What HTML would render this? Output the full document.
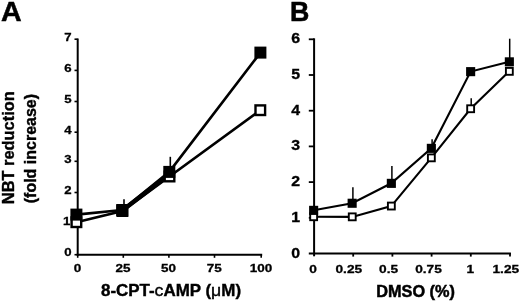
<!DOCTYPE html><html><head><meta charset="utf-8"><style>html,body{margin:0;padding:0;background:#fff}svg{display:block;filter:grayscale(1)}text{font-family:"Liberation Sans",sans-serif;font-weight:bold;fill:#000}</style></head><body>
<svg width="520" height="303" viewBox="0 0 520 303">
<rect width="520" height="303" fill="#fff"/>
<text transform="translate(0.90,21.30) scale(1.01,1)" font-size="28.3" text-anchor="start" stroke="#000" stroke-width="0.5">A</text>
<text transform="translate(289.90,21.00) scale(0.97,1)" font-size="27.6" text-anchor="start" stroke="#000" stroke-width="0.6">B</text>
<g stroke="#000" stroke-width="2" fill="none">
<path d="M77.7 38.5V255.7"/>
<path d="M76.7 254.7H262.2"/>
</g>
<g stroke="#000" stroke-width="1.6" fill="none">
<path d="M74.5 254.7H77.7"/>
<path d="M74.5 223.7H77.7"/>
<path d="M74.5 192.5H77.7"/>
<path d="M74.5 161.3H77.7"/>
<path d="M74.5 132.2H77.7"/>
<path d="M74.5 101.5H77.7"/>
<path d="M74.5 70.4H77.7"/>
<path d="M74.5 39.2H77.7"/>
<path d="M77.7 254V257.8"/>
<path d="M123.3 254V257.8"/>
<path d="M168.9 254V257.8"/>
<path d="M214.5 254V257.8"/>
<path d="M261.2 254V257.8"/>
</g>
<text transform="translate(71.60,256.10) scale(1.12,1)" font-size="11.8" text-anchor="end" stroke="#000" stroke-width="0.3">0</text>
<text transform="translate(70.30,225.10) scale(1.12,1)" font-size="11.8" text-anchor="end" stroke="#000" stroke-width="0.3">1</text>
<text transform="translate(71.60,193.90) scale(1.12,1)" font-size="11.8" text-anchor="end" stroke="#000" stroke-width="0.3">2</text>
<text transform="translate(71.60,162.70) scale(1.12,1)" font-size="11.8" text-anchor="end" stroke="#000" stroke-width="0.3">3</text>
<text transform="translate(71.60,133.60) scale(1.12,1)" font-size="11.8" text-anchor="end" stroke="#000" stroke-width="0.3">4</text>
<text transform="translate(71.60,102.90) scale(1.12,1)" font-size="11.8" text-anchor="end" stroke="#000" stroke-width="0.3">5</text>
<text transform="translate(71.60,71.80) scale(1.12,1)" font-size="11.8" text-anchor="end" stroke="#000" stroke-width="0.3">6</text>
<text transform="translate(71.60,40.60) scale(1.12,1)" font-size="11.8" text-anchor="end" stroke="#000" stroke-width="0.3">7</text>
<text transform="translate(77.40,271.60) scale(1.14,1)" font-size="11.8" text-anchor="middle" stroke="#000" stroke-width="0.3">0</text>
<text transform="translate(123.00,271.60) scale(1.14,1)" font-size="11.8" text-anchor="middle" stroke="#000" stroke-width="0.3">25</text>
<text transform="translate(168.60,271.60) scale(1.14,1)" font-size="11.8" text-anchor="middle" stroke="#000" stroke-width="0.3">50</text>
<text transform="translate(214.20,271.60) scale(1.14,1)" font-size="11.8" text-anchor="middle" stroke="#000" stroke-width="0.3">75</text>
<text transform="translate(260.90,271.60) scale(1.14,1)" font-size="11.8" text-anchor="middle" stroke="#000" stroke-width="0.3">100</text>
<text transform="translate(171.00,295.50) scale(1.04,1)" font-size="16.3" text-anchor="middle" stroke="#000" stroke-width="0.4">8-CPT-<tspan font-weight="normal" font-size="17">c</tspan>AMP (<tspan font-weight="normal" font-size="17">μ</tspan>M)</text>
<text transform="translate(14.00,147.70) rotate(-90) scale(0.995,1)" font-size="16.5" text-anchor="middle" stroke="#000" stroke-width="0.4">NBT reduction</text>
<text transform="translate(35.70,148.60) rotate(-90) scale(0.97,1)" font-size="16.5" text-anchor="middle" stroke="#000" stroke-width="0.4">(fold increase)</text>
<polyline points="76.4,222.2 122.4,211.0 169.5,176.5 260.3,110.2" fill="none" stroke="#000" stroke-width="2.7"/>
<polyline points="76.4,214.6 122.2,210.0 169.3,171.9 260.4,52.6" fill="none" stroke="#000" stroke-width="2.7"/>
<path d="M122.3 210.5L169.4 174.2" stroke="#000" stroke-width="4.3" fill="none"/>
<g stroke="#000" stroke-width="1.6">
<path d="M124 210.0V199.2"/>
<path d="M170.3 172.2V156.8"/>
</g>
<rect x="71.6" y="217.4" width="9.6" height="9.6" fill="#fff" stroke="#000" stroke-width="2.4"/>
<rect x="117.6" y="206.2" width="9.6" height="9.6" fill="#fff" stroke="#000" stroke-width="2.4"/>
<rect x="164.7" y="171.7" width="9.6" height="9.6" fill="#fff" stroke="#000" stroke-width="2.4"/>
<rect x="255.5" y="105.4" width="9.6" height="9.6" fill="#fff" stroke="#000" stroke-width="2.4"/>
<rect x="70.4" y="208.6" width="12" height="12" fill="#000"/>
<rect x="116.2" y="204.0" width="12" height="12" fill="#000"/>
<rect x="163.3" y="165.9" width="12" height="12" fill="#000"/>
<rect x="254.4" y="46.6" width="12" height="12" fill="#000"/>
<g stroke="#000" stroke-width="2" fill="none">
<path d="M314.1 38.3V256.3"/>
<path d="M308.8 253.5H510.9"/>
</g>
<g stroke="#000" stroke-width="1.8" fill="none">
<path d="M308.8 217.8H314"/>
<path d="M308.8 182.1H314"/>
<path d="M308.8 146.4H314"/>
<path d="M308.8 110.7H314"/>
<path d="M308.8 75.0H314"/>
<path d="M308.8 39.3H314"/>
<path d="M353.2 253V256.6"/>
<path d="M392.4 253V256.6"/>
<path d="M431.6 253V256.6"/>
<path d="M470.8 253V256.6"/>
<path d="M510.0 253V256.6"/>
</g>
<text transform="translate(300.20,257.50) scale(1.12,1)" font-size="14.2" text-anchor="end" stroke="#000" stroke-width="0.3">0</text>
<text transform="translate(300.20,221.80) scale(1.12,1)" font-size="14.2" text-anchor="end" stroke="#000" stroke-width="0.3">1</text>
<text transform="translate(300.20,186.10) scale(1.12,1)" font-size="14.2" text-anchor="end" stroke="#000" stroke-width="0.3">2</text>
<text transform="translate(300.20,150.40) scale(1.12,1)" font-size="14.2" text-anchor="end" stroke="#000" stroke-width="0.3">3</text>
<text transform="translate(300.20,114.70) scale(1.12,1)" font-size="14.2" text-anchor="end" stroke="#000" stroke-width="0.3">4</text>
<text transform="translate(300.20,79.00) scale(1.12,1)" font-size="14.2" text-anchor="end" stroke="#000" stroke-width="0.3">5</text>
<text transform="translate(300.20,43.30) scale(1.12,1)" font-size="14.2" text-anchor="end" stroke="#000" stroke-width="0.3">6</text>
<text transform="translate(313.00,272.90) scale(1.16,1)" font-size="11.8" text-anchor="middle" stroke="#000" stroke-width="0.3">0</text>
<text transform="translate(348.80,272.90) scale(1.16,1)" font-size="11.8" text-anchor="middle" stroke="#000" stroke-width="0.3">0.25</text>
<text transform="translate(388.60,272.90) scale(1.16,1)" font-size="11.8" text-anchor="middle" stroke="#000" stroke-width="0.3">0.5</text>
<text transform="translate(428.50,272.90) scale(1.16,1)" font-size="11.8" text-anchor="middle" stroke="#000" stroke-width="0.3">0.75</text>
<text transform="translate(470.20,272.90) scale(1.16,1)" font-size="11.8" text-anchor="middle" stroke="#000" stroke-width="0.3">1</text>
<text transform="translate(505.80,272.90) scale(1.16,1)" font-size="11.8" text-anchor="middle" stroke="#000" stroke-width="0.3">1.25</text>
<text transform="translate(415.60,297.30) scale(0.97,1)" font-size="16.8" text-anchor="middle" stroke="#000" stroke-width="0.5">DMSO (%)</text>
<polyline points="313.7,216.7 352.2,216.9 391.3,206.1 431.3,157.8 470.6,108.8 509.3,71.3" fill="none" stroke="#000" stroke-width="2.1"/>
<polyline points="313.7,210.3 352.2,203.3 391.3,183.3 431.3,148.3 470.6,71.6 509.3,61.8" fill="none" stroke="#000" stroke-width="2.1"/>
<g stroke="#000" stroke-width="1.5">
<path d="M352.9 203.5V187.3"/>
<path d="M391.9 183.2V166"/>
<path d="M432.1 148.5V139.3"/>
<path d="M471.2 109.3V98.2"/>
<path d="M509.7 61.4V38.7"/>
</g>
<rect x="310.2" y="213.3" width="6.9" height="6.9" fill="#fff" stroke="#000" stroke-width="1.9"/>
<rect x="348.8" y="213.4" width="6.9" height="6.9" fill="#fff" stroke="#000" stroke-width="1.9"/>
<rect x="387.9" y="202.6" width="6.9" height="6.9" fill="#fff" stroke="#000" stroke-width="1.9"/>
<rect x="427.9" y="154.4" width="6.9" height="6.9" fill="#fff" stroke="#000" stroke-width="1.9"/>
<rect x="467.2" y="105.3" width="6.9" height="6.9" fill="#fff" stroke="#000" stroke-width="1.9"/>
<rect x="505.9" y="67.9" width="6.9" height="6.9" fill="#fff" stroke="#000" stroke-width="1.9"/>
<rect x="309.1" y="205.8" width="9.1" height="9.1" fill="#000"/>
<rect x="347.6" y="198.7" width="9.1" height="9.1" fill="#000"/>
<rect x="386.8" y="178.8" width="9.1" height="9.1" fill="#000"/>
<rect x="426.8" y="143.8" width="9.1" height="9.1" fill="#000"/>
<rect x="466.1" y="67.1" width="9.1" height="9.1" fill="#000"/>
<rect x="504.8" y="57.3" width="9.1" height="9.1" fill="#000"/>
</svg></body></html>
